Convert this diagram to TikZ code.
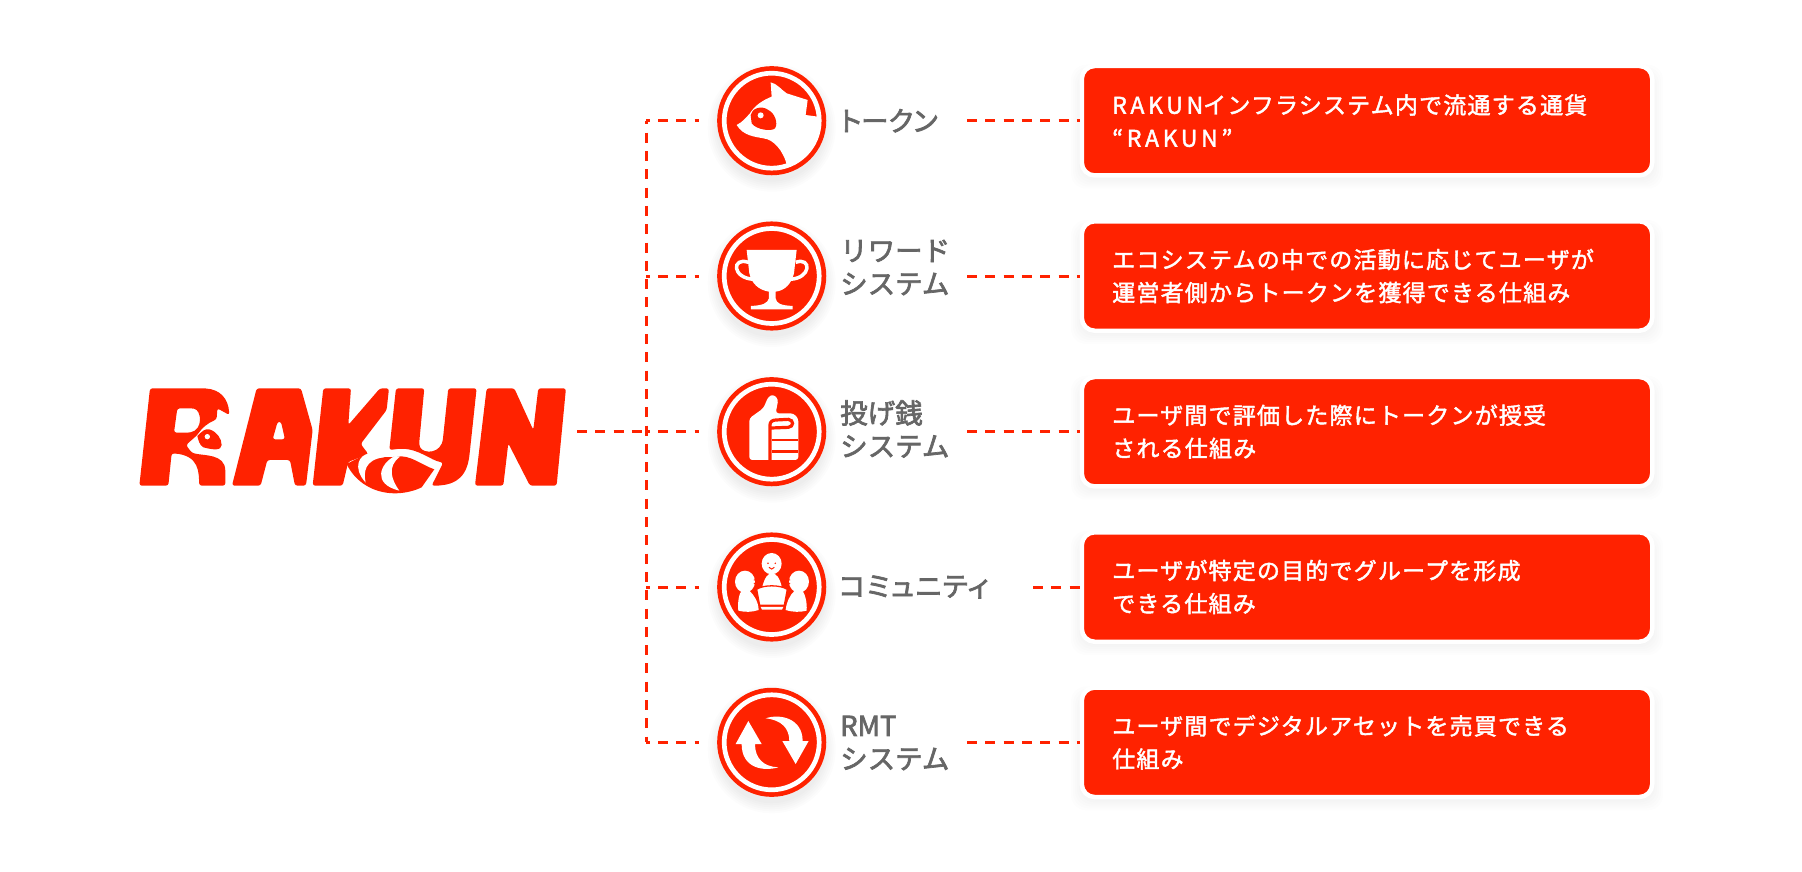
\documentclass[tikz,border=0pt]{standalone}
\usepackage{fontspec}
\setmainfont{Noto Sans CJK JP}
\newfontfamily\labelfont[FakeBold=2.5]{Noto Sans CJK JP}
\newfontfamily\tightfont[FakeBold=2.5,RawFeature={+palt}]{Noto Sans CJK JP}
\newfontfamily\looserfont[FakeBold=2.5,LetterSpace=5.5,RawFeature={+palt}]{Noto Sans CJK JP}
\newfontfamily\boxfont[LetterSpace=5.2,FakeBold=1.8]{Noto Sans CJK JP}
\newfontfamily\latfont[LetterSpace=16,FakeBold=1.8]{Noto Sans CJK JP}
\usepackage{tikz}
\usetikzlibrary{calc}
\usetikzlibrary{positioning}
\definecolor{rakunred}{HTML}{FF2200}
\definecolor{labelgrey}{HTML}{666666}
\tikzset{
	dashline/.style = {draw=rakunred, line width=3pt, dash pattern=on 10pt off 8.3pt, dash phase=6.3pt},
	iconring/.style = {circle, minimum size=95pt, inner sep=0pt, outer sep=0pt, fill=rakunred, draw=rakunred, line width=4.7pt, double=white, double distance=4.7pt},
	sidelabel/.style = {anchor=west, inner sep=0pt, align=left, text=labelgrey, font=\labelfont\fontsize{27.5}{33}\selectfont},
	infobox/.style = {rectangle, rounded corners=13pt, fill=rakunred, draw=white, line width=4.5pt, minimum height=109.5pt, text width=509.5pt, inner xsep=30.5pt, inner ysep=0pt, align=left, text=white, font=\boxfont\fontsize{23}{33}\selectfont},
	whitepart/.style = {fill=white, draw=none},
	redpart/.style = {fill=rakunred, draw=none},
}
\begin{document}
\begin{tikzpicture}[x=1pt, y=-1pt]
	\fill[white] (0,0) rectangle (1802,871);
	\useasboundingbox (0,0) rectangle (1802,871);

	\foreach \y in {120.7, 276, 431.7, 587, 742.3} {
		\foreach \g in {0,2,...,10} {
			\fill[black, opacity=0.008, rounded corners=15pt] (1081-\g, \y-46-\g) rectangle (1653+\g, \y+58+\g);
			\fill[black, opacity=0.011] (771.7, \y+7) circle (54+\g);
		}
	}

	\coordinate (trunkA) at (646, 120.7);
	\coordinate (trunkB) at (646, 276);
	\coordinate (trunkC) at (646, 431.7);
	\coordinate (trunkD) at (646, 587);
	\coordinate (trunkE) at (646, 742.3);
	\coordinate (logoEnd) at (577, 431.7);
	\coordinate (startA) at (967, 120.7);
	\coordinate (startB) at (967, 276);
	\coordinate (startC) at (967, 431.7);
	\coordinate (startD) at (1033, 587);
	\coordinate (startE) at (967, 742.3);

	\node[iconring] (iconA) at (771.7, 120.7) {};
	\node[iconring] (iconB) at (771.7, 276) {};
	\node[iconring] (iconC) at (771.7, 431.7) {};
	\node[iconring] (iconD) at (771.7, 587) {};
	\node[iconring] (iconE) at (771.7, 742.3) {};

	\node[sidelabel] (labelA) at (840, 120.7) {\tightfont トークン};
	\node[sidelabel] (labelB) at (840, 267.5) {リワード\\システム};
	\node[sidelabel] (labelC) at (840, 429) {投げ銭\\システム};
	\node[sidelabel] (labelD) at (839, 587) {\looserfont コミュニティ};
	\node[sidelabel] (labelE) at (840, 743) {RMT\\システム};

	\node[infobox] (boxA) at (1367, 120.7) {{\latfont RAKUN}インフラシステム内で流通する通貨\\{\latfont “RAKUN”}};
	\node[infobox] (boxB) at (1367, 276) {エコシステムの中での活動に応じてユーザが\\運営者側からトークンを獲得できる仕組み};
	\node[infobox] (boxC) at (1367, 431.7) {ユーザ間で評価した際にトークンが授受\\される仕組み};
	\node[infobox] (boxD) at (1367, 587) {ユーザが特定の目的でグループを形成\\できる仕組み};
	\node[infobox] (boxE) at (1367, 742.3) {ユーザ間でデジタルアセットを売買できる\\仕組み};

	\draw[dashline, dash phase=0pt] (logoEnd) -- (trunkC);
	\draw[dashline] (trunkA) -- (trunkE);
	\draw[dashline, shorten >=25pt] (trunkA) -- (iconA.west);
	\draw[dashline, shorten >=25pt] (trunkB) -- (iconB.west);
	\draw[dashline, shorten >=25pt] (trunkC) -- (iconC.west);
	\draw[dashline, shorten >=25pt] (trunkD) -- (iconD.west);
	\draw[dashline, shorten >=25pt] (trunkE) -- (iconE.west);
	\draw[dashline, dash phase=0pt] (startA) -- (boxA.west);
	\draw[dashline, dash phase=0pt] (startB) -- (boxB.west);
	\draw[dashline, dash phase=0pt] (startC) -- (boxC.west);
	\draw[dashline, dash phase=0pt] (startD) -- (boxD.west);
	\draw[dashline, dash phase=0pt] (startE) -- (boxE.west);

	% logo
	\begin{scope}[shift={(120,360)}, scale=0.3333]
		\fill[redpart, even odd rule, rounded corners=2.5pt] (90,85) -- (250,85) .. controls (300,88) and (325,115) .. (328,165) -- (292,145) -- (290,178) .. controls (262,190) and (245,205) .. (232,225) -- (198,255) -- (215,278) .. controls (250,288) and (316,280) .. (316,340) -- (316,377) -- (238,377) .. controls (236,340) and (240,285) .. (155,280) -- (145,377) -- (58,377) -- cycle
			(172,145) -- (215,145) .. controls (245,150) and (250,210) .. (205,218) -- (162,218) -- cycle;
		\fill[redpart] (232,228) .. controls (245,215) and (255,205) .. (268,208) .. controls (290,215) and (305,235) .. (305,255) .. controls (305,272) and (280,270) .. (250,262) .. controls (238,255) and (235,240) .. (232,228) -- cycle;
		\fill[white] (262,230) circle (8);
		\fill[redpart, even odd rule, rounded corners=2.5pt] (410,85) -- (543,85) -- (578,210) -- (558,377) -- (525,377) -- (510,300) -- (442,300) -- (422,377) -- (336,377) -- cycle
			(473,185) -- (483,185) -- (495,238) -- (458,238) -- cycle;
		\fill[redpart, rounded corners=2.5pt] (610,85) -- (693,85) -- (685,195) -- (780,85) -- (807,85) -- (800,150) -- (722,252) -- (745,282) -- (700,300) -- (685,305) -- (668,377) -- (578,377) -- cycle;
		\fill[redpart, rounded corners=2.5pt] (828,85) -- (913,85) -- (898,245) .. controls (898,280) and (950,285) .. (968,245) -- (985,85) -- (1070,85) -- (1048,290) .. controls (1035,365) and (990,377) .. (935,377) -- (970,308) .. controls (930,300) and (900,268) .. (840,266) -- (808,270) -- cycle;
		\fill[redpart] (680,312) .. controls (705,365) and (760,400) .. (825,400) .. controls (855,400) and (885,392) .. (905,382) -- (943,328) .. controls (905,315) and (870,283) .. (830,290) .. controls (810,293) and (780,290) .. (745,295) -- (742,280) -- cycle;
		\fill[whitepart] (745,281) .. controls (720,285) and (695,320) .. (737,368) .. controls (730,335) and (735,300) .. (790,292) -- (790,285) -- cycle;
		\fill[whitepart] (825,288) .. controls (780,310) and (755,372) .. (838,392) .. controls (815,360) and (800,320) .. (840,290) -- cycle;
		\fill[redpart, rounded corners=2.5pt] (1100,85) -- (1183,85) -- (1240,210) -- (1255,85) -- (1338,85) -- (1310,377) -- (1230,377) -- (1165,250) -- (1150,377) -- (1065,377) -- cycle;
	\end{scope}

	% token
	\begin{scope}[shift={(630,50)}, scale=0.3333]
		\clip (425,212) circle (138);
		\fill[whitepart] (422,97) .. controls (440,100) and (455,120) .. (470,130) -- (533,150) -- (527,195) -- (600,205) -- (600,400) -- (472,350) .. controls (460,300) and (430,268) .. (400,265) .. controls (375,260) and (340,258) .. (320,225) .. controls (340,215) and (350,200) .. (360,190) .. controls (375,165) and (400,150) .. (425,140) -- cycle;
		\fill[redpart] (362,195) .. controls (365,175) and (395,165) .. (415,180) .. controls (435,190) and (445,220) .. (435,235) .. controls (425,245) and (380,240) .. (365,220) -- cycle;
		\fill[white] (392,196) circle (9);
	\end{scope}

	% trophy
	\begin{scope}[shift={(630,50)}, scale=0.3333]
		\fill[whitepart] (350,600) -- (500,600) -- (492,670) .. controls (485,700) and (465,722) .. (437,725) -- (437,745) .. controls (440,760) and (450,766) .. (488,768) -- (488,778) -- (363,778) -- (363,768) .. controls (400,766) and (412,760) .. (417,745) -- (417,725) .. controls (385,720) and (365,700) .. (358,670) -- cycle;
		\draw[white, line width=3.5pt] (355,637) .. controls (305,620) and (305,685) .. (372,688);
		\draw[white, line width=3.5pt] (497,637) .. controls (545,620) and (545,685) .. (480,688);
	\end{scope}

	% thumb
	\begin{scope}[shift={(630,360)}, scale=0.3333]
		\fill[whitepart, rounded corners=3pt] (358,175) -- (400,145) -- (415,110) -- (430,103) -- (445,118) -- (437,160) -- (490,160) -- (505,175) -- (505,300) -- (358,300) -- cycle;
		\draw[rakunred, line width=3.2pt] (420,300) -- (420,195) .. controls (420,185) and (428,180) .. (438,180) -- (475,178) .. controls (492,180) and (492,200) .. (475,202) -- (425,204);
		\draw[rakunred, line width=2.4pt] (425,240) -- (505,240);
		\draw[rakunred, line width=2.4pt] (425,275) -- (505,275);
	\end{scope}

	% community
	\begin{scope}[shift={(630,360)}, scale=0.3333]
		\fill[white] (425,611) ellipse (30 and 32);
		\fill[whitepart] (397,680) .. controls (405,650) and (415,640) .. (425,640) .. controls (440,640) and (450,655) .. (455,680) -- cycle;
		\fill[rakunred] (414,610) circle (2.5) (436,610) circle (2.5);
		\draw[rakunred, line width=1pt] (417,622) .. controls (422,629) and (428,629) .. (433,622);
		\fill[white] (345,665) ellipse (30 and 33);
		\fill[white] (507,665) ellipse (30 and 33);
		\fill[whitepart] (325,752) .. controls (322,725) and (328,700) .. (335,692) -- (358,692) .. controls (372,705) and (385,725) .. (386,750) .. controls (365,757) and (345,757) .. (325,752) -- cycle;
		\fill[whitepart] (467,750) .. controls (470,725) and (480,705) .. (494,692) -- (517,692) .. controls (524,700) and (532,725) .. (530,752) .. controls (510,757) and (490,757) .. (467,750) -- cycle;
		\fill[rakunred] (373,660) circle (2) (373,670) circle (2) (479,660) circle (2) (479,670) circle (2);
		\filldraw[fill=white, draw=rakunred, line width=1.3pt] (380,688) .. controls (400,674) and (450,674) .. (472,688) -- (463,736) -- (389,736) -- cycle;
		\fill[whitepart] (392,741) -- (460,741) -- (456,749) -- (396,749) -- cycle;
	\end{scope}

	% arrows
	\begin{scope}[shift={(630,660)}, scale=0.3333]
		\fill[whitepart] (355,183) -- (395,252) -- (375,252) .. controls (375,295) and (400,320) .. (445,322) .. controls (400,335) and (335,325) .. (335,252) -- (317,252) -- cycle;
		\fill[whitepart] (497,312) -- (457,243) -- (478,243) .. controls (478,205) and (455,180) .. (407,175) .. controls (450,160) and (518,175) .. (518,243) -- (536,243) -- cycle;
	\end{scope}
\end{tikzpicture}
\end{document}
